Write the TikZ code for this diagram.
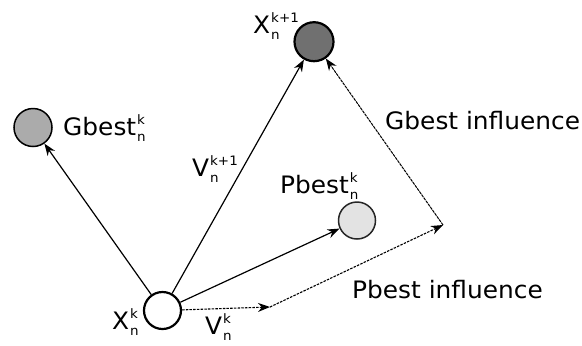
\documentclass[tikz,border=0pt]{standalone}
\usepackage{fontspec}
\setmainfont[FakeStretch=1.035]{DejaVu Sans}
\usetikzlibrary{arrows.meta}
\newcommand\ssk[2]{\kern1bp\makebox[0pt][l]{\raisebox{11bp}{\fontsize{13bp}{13bp}\selectfont #1}}{\raisebox{-6bp}{\fontsize{13bp}{13bp}\selectfont #2}}}
\tikzset{
  lbl/.style={anchor=base west, inner sep=0pt, font=\fontsize{24bp}{24bp}\selectfont},
  ball/.style={circle, draw=black, inner sep=0pt},
  conn/.style={line width=1.2bp, -{Stealth[length=12bp,width=9bp]}},
  dsh/.style={line width=1.1bp, dash pattern=on 2.5bp off 1.2bp, -{Stealth[length=12bp,width=9bp]}},
}
\begin{document}
\begin{tikzpicture}[x=1bp,y=-1bp]
\useasboundingbox (0,0) rectangle (582,345);
% balls
\node[ball, minimum size=37bp, line width=2.2bp, fill=white] (xk) at (162.5,310.5) {};
\node[ball, minimum size=39bp, line width=2.2bp, fill=black!56] (xk1) at (314,41.7) {};
\node[ball, minimum size=38bp, line width=1.5bp, fill=black!33] (gb) at (33,127.5) {};
\node[ball, minimum size=37bp, line width=1.5bp, draw=black!85, fill=black!11] (pb) at (357,220.5) {};
% corner points
\coordinate (c1) at (270,307);
\coordinate (c2) at (443,225);
% connectors
\draw[conn] (xk) -- (gb);
\draw[conn] (xk) -- (xk1);
\draw[conn] (xk) -- (pb);
\draw[dsh] (xk) -- (c1);
\draw[dsh] (c1) -- (c2);
\draw[dsh, line width=1bp, dash pattern=on 3bp off 0.8bp] (c2) -- (xk1);
% labels
\node[lbl] (lxk1) at (253,33) {X\ssk{k+1}{n}};
\node[lbl] (lgb) at (63,135) {Gbest\ssk{k}{n}};
\node[lbl] (lv1) at (192,176) {V\ssk{k+1}{n}};
\node[lbl] (lpb) at (280,193.5) {Pbest\ssk{k}{n}};
\node[lbl] (lgi) at (385,129.5) {Gbest influence};
\node[lbl] (lpi) at (352,298.5) {Pbest influence};
\node[lbl] (lxk) at (112,329.5) {X\ssk{k}{n}};
\node[lbl] (lvk) at (205,334) {V\ssk{k}{n}};
\end{tikzpicture}
\end{document}
